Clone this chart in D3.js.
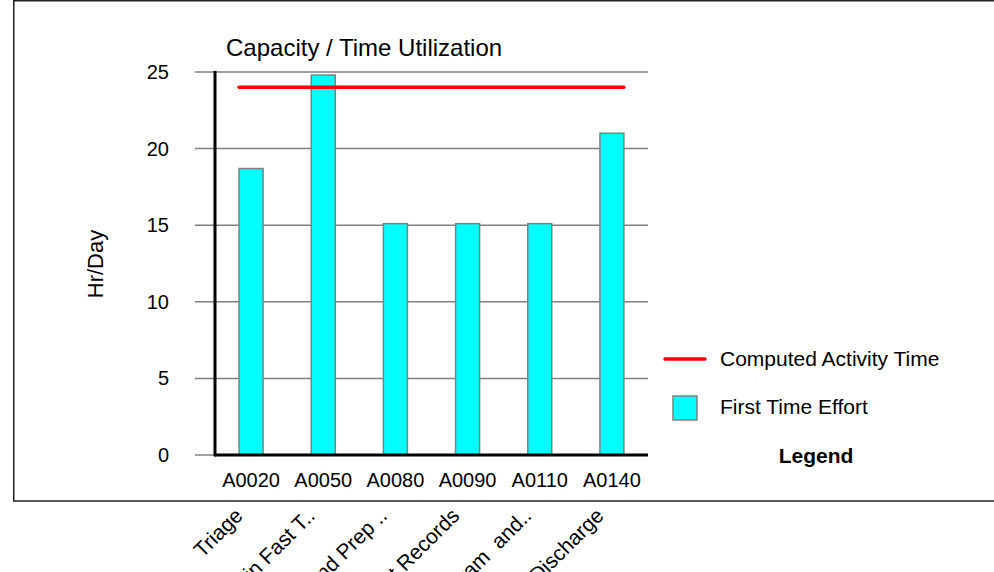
<!DOCTYPE html>
<html>
<head>
<meta charset="utf-8">
<script src="https://cdnjs.cloudflare.com/ajax/libs/d3/7.8.5/d3.min.js"></script>
<style>
  body { margin: 0; background: #fff; }
  svg { display: block; font-family: "Liberation Sans", Arial, sans-serif; }
</style>
</head>
<body>
<div></div>
<script>
// Chart data
var codes = ["A0020", "A0050", "A0080", "A0090", "A0110", "A0140"];
var names = ["Triage", "Admit in Fast T..", "Exam and Prep ..", "Get Patient Records", "Physician Exam  and..", "Patient Discharge"];
var firstTimeEffort = [18.7, 24.8, 15.1, 15.1, 15.1, 21.0];
var computedTime = [24, 24, 24, 24, 24, 24];
var yTicks = [0, 5, 10, 15, 20, 25];

let width = 994;
let height = 572;

let plotLeft = 215;
let plotRight = 648;
let plotTop = 72;
let plotBottom = 455;

let svg = d3.select("div").append("svg")
  .attr("width", width)
  .attr("height", height);

// Outer frame
svg.append("path")
  .attr("d", "M13,0.75 H994 M13.75,0 V501 H994")
  .style("fill", "none")
  .style("stroke", "#222")
  .style("stroke-width", 1.5);

// Scales
let x = d3.scaleBand()
  .domain(codes)
  .range([plotLeft, plotRight]);

let y = d3.scaleLinear()
  .domain([0, 25])
  .range([plotBottom, plotTop]);

// Grid lines
svg.append("g")
  .selectAll("line")
  .data(yTicks)
  .join("line")
  .attr("x1", 195)
  .attr("x2", plotRight)
  .attr("y1", d => y(d))
  .attr("y2", d => y(d))
  .style("stroke", "#808080")
  .style("stroke-width", 1.5);

// Y axis labels
let left_axis = d3.axisLeft(y)
  .tickValues(yTicks)
  .tickSize(0)
  .tickPadding(46);

let yAxis = svg.append("g")
  .attr("transform", "translate(" + plotLeft + ",0)")
  .call(left_axis);
yAxis.select(".domain").remove();
yAxis.selectAll("text")
  .style("font-family", "Liberation Sans, Arial, sans-serif")
  .style("font-size", "20px")
  .style("fill", "#000");

// Bars
let barWidth = 24;
svg.append("g")
  .selectAll("rect")
  .data(codes)
  .join("rect")
  .attr("x", d => x(d) + x.bandwidth() / 2 - barWidth / 2)
  .attr("y", (d, i) => y(firstTimeEffort[i]))
  .attr("width", barWidth)
  .attr("height", (d, i) => y(0) - y(firstTimeEffort[i]))
  .style("fill", "#00ffff")
  .style("stroke", "#808080")
  .style("stroke-width", 1.5);

// Axis lines
svg.append("line")
  .attr("x1", plotLeft).attr("x2", plotLeft)
  .attr("y1", y(25) - 1).attr("y2", y(0) + 1.5)
  .style("stroke", "#000").style("stroke-width", 3);
svg.append("line")
  .attr("x1", plotLeft).attr("x2", plotRight)
  .attr("y1", y(0)).attr("y2", y(0))
  .style("stroke", "#000").style("stroke-width", 3);

// Computed activity time line
let line = d3.line()
  .x((d, i) => x(codes[i]) + x.bandwidth() / 2 + (i == 0 ? -barWidth / 2 : 0) + (i == codes.length - 1 ? barWidth / 2 : 0))
  .y(d => y(d));

svg.append("path")
  .datum(computedTime)
  .attr("d", line)
  .style("fill", "none")
  .style("stroke", "#ff0000")
  .style("stroke-width", 3.5)
  .style("stroke-linecap", "round");

// X labels (codes)
svg.append("g")
  .selectAll("text")
  .data(codes)
  .join("text")
  .attr("x", d => x(d) + x.bandwidth() / 2)
  .attr("y", 487)
  .attr("text-anchor", "middle")
  .style("font-size", "20px")
  .text(d => d);

// Rotated activity names below the frame (cut by the page edge, as in the original)
svg.append("g")
  .selectAll("text")
  .data(names)
  .join("text")
  .attr("transform", (d, i) => "translate(" + (x(codes[i]) + x.bandwidth() / 2 - 7) + ",517) rotate(-45)")
  .attr("text-anchor", "end")
  .style("font-size", "21px")
  .style("white-space", "pre")
  .text(d => d);

// Title
svg.append("text")
  .attr("x", 226)
  .attr("y", 56)
  .style("font-size", "24px")
  .text("Capacity / Time Utilization");

// Y axis title
svg.append("text")
  .attr("transform", "translate(103,264) rotate(-90)")
  .attr("text-anchor", "middle")
  .style("font-size", "22px")
  .text("Hr/Day");

// Legend
svg.append("line")
  .attr("x1", 665).attr("x2", 705)
  .attr("y1", 359).attr("y2", 359)
  .style("stroke", "#ff0000")
  .style("stroke-width", 3.5)
  .style("stroke-linecap", "round");
svg.append("text")
  .attr("x", 720).attr("y", 366)
  .style("font-size", "21px")
  .text("Computed Activity Time");

svg.append("rect")
  .attr("x", 673).attr("y", 396)
  .attr("width", 24).attr("height", 24)
  .style("fill", "#00ffff")
  .style("stroke", "#808080")
  .style("stroke-width", 1.5);
svg.append("text")
  .attr("x", 720).attr("y", 414)
  .style("font-size", "21px")
  .text("First Time Effort");

svg.append("text")
  .attr("x", 816).attr("y", 463)
  .attr("text-anchor", "middle")
  .style("font-size", "21px")
  .style("font-weight", "bold")
  .text("Legend");
</script>
</body>
</html>
